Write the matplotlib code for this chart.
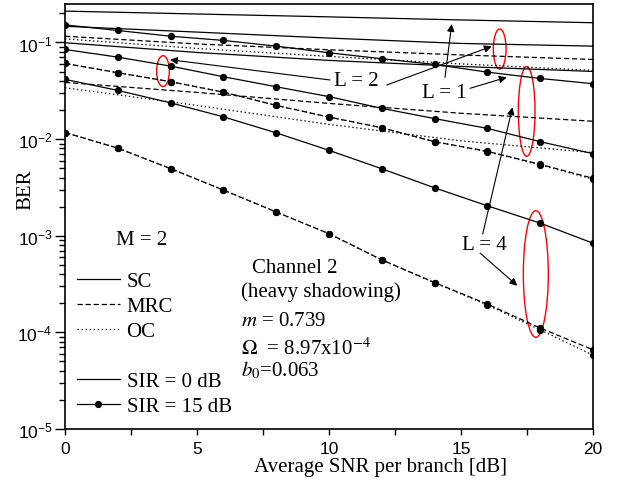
import matplotlib
matplotlib.use("Agg")
import matplotlib.pyplot as plt
from matplotlib.lines import Line2D
from matplotlib.patches import Ellipse

plt.rcParams['font.family'] = ['Liberation Sans', 'DejaVu Sans']
plt.rcParams['mathtext.fontset'] = 'stix'
plt.rcParams['lines.scale_dashes'] = False

# SNR per branch [dB]
snr_marked = [0, 2, 4, 6, 8, 10, 12, 14, 16, 18, 20]
snr_plain = [0, 5, 10, 15, 20]

# SIR = 0 dB (no markers)
ber_L1_sir0 = [0.211, 0.197, 0.184, 0.171, 0.160]
ber_L2_sir0_sc = [0.147, 0.128, 0.111, 0.0977, 0.0916]
ber_L2_sir0_mrc = [0.116, 0.0965, 0.0840, 0.0743, 0.0667]
ber_L2_sir0_oc = [0.109, 0.0867, 0.0717, 0.0600, 0.0514]
ber_L4_sir0_sc = [0.0993, 0.0788, 0.0652, 0.0565, 0.0501]
ber_L4_sir0_mrc = [0.0386, 0.0304, 0.0234, 0.0185, 0.0153]
ber_L4_sir0_oc = [0.0340, 0.0223, 0.0142, 0.00959, 0.00724]

# SIR = 15 dB (markers)
ber_L1_sir15 = [0.152, 0.133, 0.116, 0.105, 0.0916, 0.0782, 0.0678, 0.0592, 0.0493, 0.0424, 0.0374]
ber_L2_sir15_sc = [0.0846, 0.0705, 0.0569, 0.0442, 0.0348, 0.0275, 0.0208, 0.0163, 0.0129, 0.0094, 0.00707]
ber_L2_sir15_mrc = [0.0607, 0.0486, 0.0393, 0.0306, 0.0223, 0.0169, 0.0131, 0.00941, 0.00747, 0.00548, 0.00393]
ber_L2_sir15_oc = [0.0607, 0.0486, 0.0393, 0.0306, 0.0223, 0.0169, 0.0131, 0.00938, 0.00742, 0.00540, 0.00385]
ber_L4_sir15_sc = [0.0415, 0.0319, 0.0237, 0.0170, 0.0116, 0.00765, 0.00493, 0.00313, 0.00204, 0.00135, 0.000837]
ber_L4_sir15_mrc = [0.0117, 0.00806, 0.00495, 0.00297, 0.00176, 0.00105, 0.000562, 0.000328, 0.000196, 0.000111, 0.0000660]
ber_L4_sir15_oc = [0.0117, 0.00806, 0.00495, 0.00297, 0.00176, 0.00105, 0.000562, 0.000325, 0.000192, 0.000106, 0.0000582]

SOLID = '-'
DASHED = (0, (3.8, 2.0))
DOTTED = (0, (1.0, 1.9))
LW = 0.9
MS = 4.2
SERIF = 'Liberation Serif'

fig = plt.figure(figsize=(6.25, 4.81), dpi=100)
ax = fig.add_axes([65 / 625, 1 - 430 / 481, 528 / 625, 425 / 481])

plain = [(ber_L1_sir0, SOLID), (ber_L2_sir0_sc, SOLID), (ber_L2_sir0_mrc, DASHED),
         (ber_L2_sir0_oc, DOTTED), (ber_L4_sir0_sc, SOLID), (ber_L4_sir0_mrc, DASHED),
         (ber_L4_sir0_oc, DOTTED)]
for ber, ls in plain:
    ax.plot(snr_plain, ber, color='black', lw=LW, linestyle=ls)

marked = [(ber_L1_sir15, SOLID), (ber_L2_sir15_sc, SOLID), (ber_L2_sir15_mrc, DASHED),
          (ber_L2_sir15_oc, DOTTED), (ber_L4_sir15_sc, SOLID), (ber_L4_sir15_mrc, DASHED),
          (ber_L4_sir15_oc, DOTTED)]
for ber, ls in marked:
    ax.plot(snr_marked, ber, color='black', lw=LW, linestyle=ls,
            marker='o', markersize=MS)

ax.set_yscale('log')
ax.set_xlim(0, 20)
ax.set_ylim(1e-5, 0.25)
ax.set_xticks([0, 5, 10, 15, 20])
ax.set_xticks([2.5, 7.5, 12.5, 17.5], minor=True)
ax.tick_params(axis='both', which='both', direction='out', labelsize=12.5, width=1.0)
ax.tick_params(axis='x', which='major', length=4, pad=5)
ax.tick_params(axis='x', which='minor', length=4)
ax.tick_params(axis='y', which='major', length=7, pad=2)
ax.tick_params(axis='y', which='minor', length=4)
for s in ax.spines.values():
    s.set_linewidth(1.2)

ax.set_xlabel('Average SNR per branch [dB]', family=SERIF, fontsize=15)
ax.xaxis.set_label_coords(0.5975, -0.089)
ax.xaxis.label.set_va('center')
ax.set_ylabel('BER', family=SERIF, fontsize=15)
ax.yaxis.set_label_coords(-0.074, 0.565)
ax.yaxis.label.set_va('center')

# legend
handles = [Line2D([], [], color='black', lw=LW, linestyle=SOLID),
           Line2D([], [], color='black', lw=LW, linestyle=DASHED),
           Line2D([], [], color='black', lw=LW, linestyle=DOTTED),
           Line2D([], [], color='none', lw=0),
           Line2D([], [], color='black', lw=LW, linestyle=SOLID),
           Line2D([], [], color='black', lw=LW, linestyle=SOLID, marker='o', markersize=MS)]
labels = ['SC', 'MRC', 'OC', ' ', 'SIR = 0 dB', 'SIR = 15 dB']
ax.legend(handles, labels, loc='center left', bbox_to_anchor=(0.022, 0.200),
          frameon=False, prop={'family': SERIF, 'size': 15}, handlelength=2.1,
          handletextpad=0.3, labelspacing=0.26, borderpad=0, borderaxespad=0)

txt = dict(transform=ax.transAxes, family=SERIF, fontsize=15, va='baseline')
ax.text(0.1453, 0.4353, 'M = 2', ha='center', **txt)
ax.text(0.3536, 0.3687, 'Channel 2', ha='left', **txt)
ax.text(0.3333, 0.3137, '(heavy shadowing)', ha='left', **txt)
ax.text(0.3333, 0.2455, r'$m$ = 0.739', ha='left', **txt)
ax.text(0.3333, 0.1765, r'$\Omega$  = 8.97x10$^{-4}$', ha='left', **txt)
ax.text(0.3333, 0.1255, r'$b_{\mathit{0}}$=0.063', ha='left', **txt)

ax.text(0.5521, 0.8094, 'L = 2', ha='center', **txt)
ax.text(0.7178, 0.7819, 'L = 1', ha='center', **txt)
ax.text(0.7939, 0.4235, 'L = 4', ha='center', **txt)

arrows = [((0.5019, 0.8212), (0.1989, 0.8689)),
          ((0.6093, 0.8094), (0.8081, 0.9005)),
          ((0.7197, 0.8275), (0.7324, 0.9529)),
          ((0.7670, 0.8016), (0.8366, 0.8275)),
          ((0.7911, 0.4588), (0.8475, 0.7569)),
          ((0.7860, 0.4141), (0.8566, 0.3372))]
for tail, head in arrows:
    ax.annotate('', xy=head, xytext=tail, xycoords='axes fraction',
                textcoords='axes fraction',
                arrowprops=dict(arrowstyle='-|>', color='black', lw=0.8,
                                mutation_scale=11, shrinkA=0, shrinkB=0))

ellipses = [(0.1856, 0.8419, 0.0241, 0.0729),
            (0.8233, 0.8941, 0.0241, 0.0941),
            (0.8744, 0.7471, 0.0316, 0.2111),
            (0.8917, 0.3647, 0.0473, 0.2981)]
for cx, cy, w, h in ellipses:
    ax.add_patch(Ellipse((cx, cy), w, h, transform=ax.transAxes, fill=False,
                         edgecolor='red', lw=1.0))

fig.savefig('out.png', dpi=100)
